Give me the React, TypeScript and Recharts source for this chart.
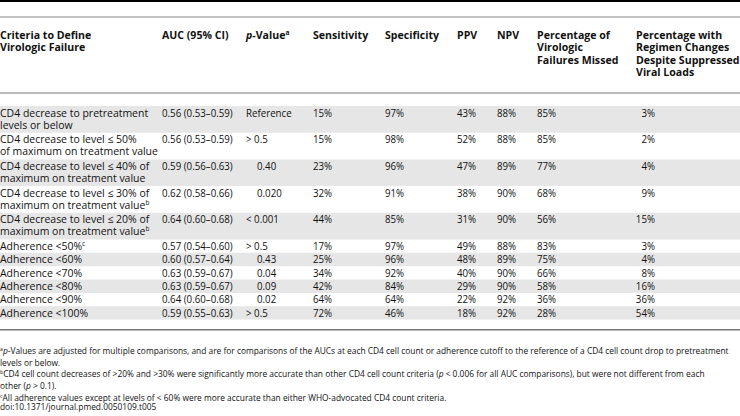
import React from 'react';
import { Surface, Rectangle, Layer } from 'recharts';

// table content
const criteria: string[][] = [
  ['CD4 decrease to pretreatment', 'levels or below'],
  ['CD4 decrease to level \u2264 50%', 'of maximum on treatment value'],
  ['CD4 decrease to level \u2264 40% of', 'maximum on treatment value'],
  ['CD4 decrease to level \u2264 30% of', 'maximum on treatment value'],
  ['CD4 decrease to level \u2264 20% of', 'maximum on treatment value'],
  ['Adherence <50%'],
  ['Adherence <60%'],
  ['Adherence <70%'],
  ['Adherence <80%'],
  ['Adherence <90%'],
  ['Adherence <100%'],
];
const criteriaNotes = ['', '', '', 'b', 'b', 'c', '', '', '', '', ''];
const auc = [
  '0.56 (0.53\u20130.59)', '0.56 (0.53\u20130.59)', '0.59 (0.56\u20130.63)', '0.62 (0.58\u20130.66)',
  '0.64 (0.60\u20130.68)', '0.57 (0.54\u20130.60)', '0.60 (0.57\u20130.64)', '0.63 (0.59\u20130.67)',
  '0.63 (0.59\u20130.67)', '0.64 (0.60\u20130.68)', '0.59 (0.55\u20130.63)',
];
const pValues = ['Reference', '> 0.5', '0.40', '0.020', '< 0.001', '> 0.5', '0.43', '0.04', '0.09', '0.02', '> 0.5'];
const sensitivity = [15, 15, 23, 32, 44, 17, 25, 34, 42, 64, 72];
const specificity = [97, 98, 96, 91, 85, 97, 96, 92, 84, 64, 46];
const ppv = [43, 52, 47, 38, 31, 49, 48, 40, 29, 22, 18];
const npv = [88, 88, 89, 90, 90, 88, 89, 90, 90, 92, 92];
const failuresMissed = [85, 85, 77, 68, 56, 83, 75, 66, 58, 36, 28];
const regimenChanges = [3, 2, 4, 9, 15, 3, 4, 8, 16, 36, 54];

const W = 740;
const H = 416;
const FONT = '"Open Sans", "DejaVu Sans", sans-serif';
const LINE = 13.35;
const NUM_SX = 0.9; // figures in the source face are narrower

// column left edges
const COL = { auc: 162, p: 246, pNum: 257, sens: 313, spec: 385, ppv: 457, npv: 497, missed: 537, regimen: 636, regimenEnd: 655 };

type Part = { t: string; i?: boolean; sup?: boolean };

function T({ x, y, parts, size = 10.8, bold = false, anchor = 'start', sx = 1 }: {
  x: number; y: number; parts: Part[]; size?: number; bold?: boolean; anchor?: 'start' | 'end'; sx?: number;
}) {
  return (
    <text
      transform={`translate(${x},${y}) scale(${sx},1)`}
      fontFamily={FONT}
      fontSize={size}
      fontWeight={bold ? 700 : 400}
      fill="#111"
      textAnchor={anchor}
    >
      {parts.map((p, k) => (
        <tspan
          key={k}
          fontStyle={p.i ? 'italic' : 'normal'}
          fontSize={p.sup ? size * 0.62 : size}
          dy={p.sup ? -size * 0.38 : k > 0 && parts[k - 1].sup ? size * 0.38 : undefined}
        >
          {p.t}
        </tspan>
      ))}
    </text>
  );
}

const headers: { x: number; lines: Part[][] }[] = [
  { x: 0, lines: [[{ t: 'Criteria to Define' }], [{ t: 'Virologic Failure' }]] },
  { x: COL.auc, lines: [[{ t: 'AUC (95% CI)' }]] },
  { x: COL.p, lines: [[{ t: 'p', i: true }, { t: '-Value' }, { t: 'a', sup: true }]] },
  { x: COL.sens, lines: [[{ t: 'Sensitivity' }]] },
  { x: COL.spec, lines: [[{ t: 'Specificity' }]] },
  { x: COL.ppv, lines: [[{ t: 'PPV' }]] },
  { x: COL.npv, lines: [[{ t: 'NPV' }]] },
  { x: COL.missed, lines: [[{ t: 'Percentage of' }], [{ t: 'Virologic' }], [{ t: 'Failures Missed' }]] },
  { x: COL.regimen, lines: [[{ t: 'Percentage with' }], [{ t: 'Regimen Changes' }], [{ t: 'Despite Suppressed' }], [{ t: 'Viral Loads' }]] },
];

export default function App() {
  let top = 106;
  const rows = criteria.map((lines, r) => {
    const h = lines.length * LINE;
    const row = { top, h, r };
    top += h;
    return row;
  });
  const bodyEnd = top;

  return (
    <div style={{ position: 'absolute', left: 0, top: 0, width: W, height: H, background: '#fff' }}>
      <Surface width={W} height={H}>
        <Layer>
          <Rectangle x={0} y={0} width={W} height={2} fill="#000" />
          <Rectangle x={0} y={16.5} width={W} height={1} fill="#8a8a8a" />
          <Rectangle x={0} y={92.5} width={W} height={1} fill="#777" />
          {rows.map(({ top: y, h, r }) =>
            r % 2 === 0 ? <Rectangle key={r} x={0} y={y} width={W} height={h} fill="#e6e6e6" /> : null,
          )}
          <Rectangle x={0} y={bodyEnd + 9.5} width={W} height={1.5} fill="#777" />
        </Layer>
        <Layer>
          {headers.map((hd, k) =>
            hd.lines.map((parts, j) => (
              <T key={`${k}-${j}`} x={hd.x} y={39 + j * 12.3} parts={parts} bold sx={0.98} />
            )),
          )}
        </Layer>
        <Layer>
          {rows.map(({ top: y, r }) => {
            const b = y + 10.5;
            const lines = criteria[r];
            const pv = pValues[r];
            const comp = pv.startsWith('>') || pv.startsWith('<') || pv === 'Reference';
            return (
              <g key={r}>
                {lines.map((ln, j) => (
                  <T
                    key={j}
                    x={0}
                    y={b + j * 12}
                    sx={0.97}
                    parts={j === lines.length - 1 && criteriaNotes[r] ? [{ t: ln }, { t: criteriaNotes[r], sup: true }] : [{ t: ln }]}
                  />
                ))}
                <T x={COL.auc} y={b} sx={NUM_SX} parts={[{ t: auc[r] }]} />
                <T x={comp ? COL.p : COL.pNum} y={b} sx={NUM_SX} parts={[{ t: pv }]} />
                <T x={COL.sens} y={b} sx={NUM_SX} parts={[{ t: `${sensitivity[r]}%` }]} />
                <T x={COL.spec} y={b} sx={NUM_SX} parts={[{ t: `${specificity[r]}%` }]} />
                <T x={COL.ppv} y={b} sx={NUM_SX} parts={[{ t: `${ppv[r]}%` }]} />
                <T x={COL.npv} y={b} sx={NUM_SX} parts={[{ t: `${npv[r]}%` }]} />
                <T x={COL.missed} y={b} sx={NUM_SX} parts={[{ t: `${failuresMissed[r]}%` }]} />
                <T x={COL.regimenEnd} y={b} sx={NUM_SX} anchor="end" parts={[{ t: `${regimenChanges[r]}%` }]} />
              </g>
            );
          })}
        </Layer>
        <Layer>
          <T x={0} y={354} size={8.4} parts={[{ t: 'a', sup: true }, { t: 'p', i: true }, { t: '-Values are adjusted for multiple comparisons, and are for comparisons of the AUCs at each CD4 cell count or adherence cutoff to the reference of a CD4 cell count drop to pretreatment' }]} />
          <T x={0} y={366} size={8.4} parts={[{ t: 'levels or below.' }]} />
          <T x={0} y={377} size={8.4} parts={[{ t: 'b', sup: true }, { t: 'CD4 cell count decreases of >20% and >30% were significantly more accurate than other CD4 cell count criteria (' }, { t: 'p', i: true }, { t: ' < 0.006 for all AUC comparisons), but were not different from each' }]} />
          <T x={0} y={389} size={8.4} parts={[{ t: 'other (' }, { t: 'p', i: true }, { t: ' > 0.1).' }]} />
          <T x={0} y={401} size={8.4} parts={[{ t: 'c', sup: true }, { t: 'All adherence values except at levels of < 60% were more accurate than either WHO-advocated CD4 count criteria.' }]} />
          <T x={0} y={410} size={8.4} parts={[{ t: 'doi:10.1371/journal.pmed.0050109.t005' }]} />
        </Layer>
      </Surface>
    </div>
  );
}
